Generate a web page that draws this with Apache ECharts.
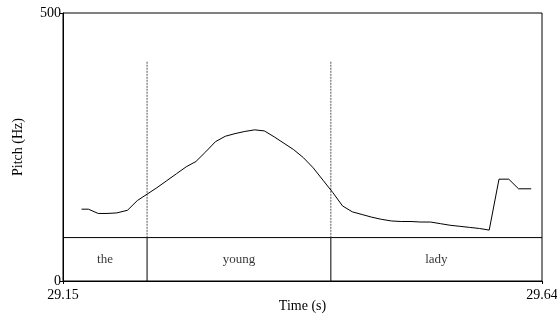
<!DOCTYPE html>
<html>
<head>
<meta charset="utf-8">
<script src="https://cdn.jsdelivr.net/npm/echarts@6/dist/echarts.min.js"></script>
<style>
  html, body { margin: 0; padding: 0; background: #fff; }
  #chart { width: 557px; height: 321px; }
</style>
</head>
<body>
<div id="chart"></div>
<script>
// Pitch track (seconds, Hz)
const times = [29.169, 29.176, 29.186, 29.195, 29.205, 29.216, 29.226, 29.236, 29.246, 29.256,
  29.266, 29.276, 29.286, 29.296, 29.306, 29.316, 29.326, 29.336, 29.346, 29.356,
  29.366, 29.376, 29.386, 29.396, 29.406, 29.416, 29.426, 29.436, 29.446, 29.456,
  29.466, 29.476, 29.486, 29.496, 29.506, 29.516, 29.526, 29.536, 29.546, 29.556,
  29.566, 29.576, 29.586, 29.596, 29.606, 29.616, 29.629];
const pitch = [134, 134, 126, 126, 127, 132, 150, 162, 174, 187,
  200, 213, 223, 241, 260, 270, 275, 279, 282, 280,
  269, 257, 245, 230, 211, 188, 165, 140, 129, 124,
  119, 115, 112, 111, 111, 110, 110, 107, 104, 102,
  100, 98, 95, 190, 190, 172, 172];

// Word tier: interval edges and labels
const tierEdges = [29.15, 29.236, 29.424, 29.64];
const tierWords = ["the", "young", "lady"];
const tierTop = 81;        // Hz level of the tier's upper line
const boundaryTop = 409;   // dotted boundary lines reach up to here
const yTicks = [0, 500];
const xTicks = [29.15, 29.64];

const serif = '"Liberation Serif", "DejaVu Serif", serif';

const series = [];

// pitch contour
series.push({
  type: 'line',
  data: times.map((t, i) => [t, pitch[i]]),
  showSymbol: false,
  lineStyle: { color: '#000', width: 1 },
  z: 5,
  silent: true
});

// tier upper line
series.push({
  type: 'line',
  data: [[tierEdges[0], tierTop], [tierEdges[tierEdges.length - 1], tierTop]],
  showSymbol: false,
  lineStyle: { color: '#000', width: 1 },
  silent: true
});

// interior word boundaries: dotted above the tier, solid inside it
tierEdges.slice(1, -1).forEach(t => {
  series.push({
    type: 'line',
    data: [[t, boundaryTop], [t, tierTop]],
    showSymbol: false,
    lineStyle: { color: '#555', width: 1, type: [2, 1] },
    silent: true
  });
  series.push({
    type: 'line',
    data: [[t, tierTop], [t, 0]],
    showSymbol: false,
    lineStyle: { color: '#000', width: 1 },
    silent: true
  });
});

// word labels centred in their intervals
series.push({
  type: 'scatter',
  symbolSize: 0,
  data: tierWords.map((w, i) => ({
    value: [(tierEdges[i] + tierEdges[i + 1]) / 2, tierTop / 2],
    name: w
  })),
  label: {
    show: true,
    position: 'inside',
    formatter: p => p.name,
    color: '#000',
    fontFamily: serif,
    fontSize: 13
  },
  silent: true
});

const chart = echarts.init(document.getElementById('chart'), null, { renderer: 'canvas' });
chart.setOption({
  animation: false,
  backgroundColor: '#fff',
  grid: {
    left: 63, right: 15, top: 13, bottom: 40,
    containLabel: false,
    outerBoundsMode: 'none',
    show: true, borderColor: '#000', borderWidth: 1
  },
  xAxis: {
    type: 'value',
    min: xTicks[0], max: xTicks[1],
    name: 'Time (s)',
    nameLocation: 'middle',
    nameGap: 18,
    nameMoveOverlap: false,
    nameTextStyle: { fontFamily: serif, fontSize: 14, color: '#000' },
    axisLine: { show: true, lineStyle: { color: '#000', width: 1 } },
    axisTick: { show: true, length: 3, customValues: xTicks, lineStyle: { color: '#000' } },
    axisLabel: {
      customValues: xTicks,
      formatter: v => v.toFixed(2),
      fontFamily: serif, fontSize: 14, color: '#000', margin: 7
    },
    splitLine: { show: false }
  },
  yAxis: {
    type: 'value',
    min: yTicks[0], max: yTicks[1], interval: 500,
    name: 'Pitch (Hz)',
    nameLocation: 'middle',
    nameGap: 38,
    nameMoveOverlap: false,
    nameTextStyle: { fontFamily: serif, fontSize: 14, color: '#000' },
    axisLine: { show: true, lineStyle: { color: '#000', width: 1 } },
    axisTick: { show: true, length: 3, lineStyle: { color: '#000' } },
    axisLabel: { fontFamily: serif, fontSize: 14, color: '#000', margin: 2 },
    splitLine: { show: false }
  },
  series: series
});
</script>
</body>
</html>
